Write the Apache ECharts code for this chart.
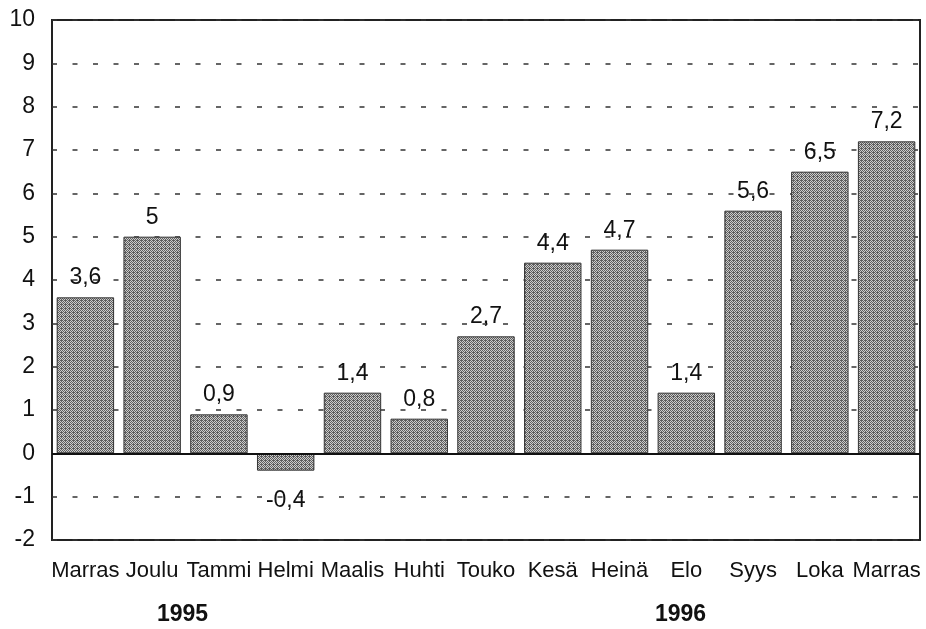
<!DOCTYPE html>
<html>
<head>
<meta charset="utf-8">
<script src="https://cdn.jsdelivr.net/npm/echarts@6/dist/echarts.min.js"></script>
<style>
  html, body { margin: 0; padding: 0; background: #fff; }
  #chart { width: 926px; height: 629px; }
</style>
</head>
<body>
<div id="chart"></div>
<script>
var months = ['Marras', 'Joulu', 'Tammi', 'Helmi', 'Maalis', 'Huhti', 'Touko', 'Kesä', 'Heinä', 'Elo', 'Syys', 'Loka', 'Marras'];
var values = [3.6, 5, 0.9, -0.4, 1.4, 0.8, 2.7, 4.4, 4.7, 1.4, 5.6, 6.5, 7.2];
var years = ['1995', '1996'];

// small dither tile for the bar fill
var tile = document.createElement('canvas');
tile.width = 4; tile.height = 4;
var tc = tile.getContext('2d');
tc.fillStyle = '#cccccc';
tc.fillRect(0, 0, 4, 4);
tc.fillStyle = '#5e5e5e';
var dots = [[0, 0], [2, 0], [1, 1], [3, 1], [0, 2], [2, 2], [1, 3], [3, 3], [1, 0]];
dots.forEach(function (d) { tc.fillRect(d[0], d[1], 1, 1); });

var font = '"Liberation Sans", Arial, sans-serif';

var myChart = echarts.init(document.getElementById('chart'));
var option = {
  animation: false,
  backgroundColor: '#fff',
  grid: {
    left: 52, right: 6, top: 20, bottom: 89,
    show: true, borderColor: '#222', borderWidth: 2,
    containLabel: false
  },
  xAxis: {
    type: 'category',
    data: months,
    axisLine: { onZero: false, show: false },
    axisTick: { show: false },
    axisLabel: {
      margin: 20, color: '#111', fontSize: 22, fontFamily: font,
      interval: 0
    }
  },
  yAxis: {
    type: 'value',
    min: -2, max: 10, interval: 1,
    axisLine: { show: false },
    axisTick: { show: false },
    axisLabel: { margin: 17, color: '#111', fontSize: 23, fontFamily: font },
    splitLine: {
      show: true,
      lineStyle: { color: '#333', width: 1.5, type: [5, 15.5] }
    }
  },
  series: [{
    type: 'bar',
    data: values.map(function (v) {
      // negative value gets its label under the bar
      return v < 0 ? { value: v, label: { position: 'bottom', distance: 18 } } : v;
    }),
    barCategoryGap: '14%',
    itemStyle: {
      color: { image: tile, repeat: 'repeat' },
      borderColor: '#333',
      borderWidth: 1
    },
    label: {
      show: true,
      position: 'top',
      distance: 8,
      color: '#111',
      fontSize: 23,
      fontFamily: font,
      formatter: function (p) { return String(p.value).replace('.', ','); }
    },
    markLine: {
      silent: true,
      symbol: 'none',
      label: { show: false },
      lineStyle: { color: '#111', width: 2, type: 'solid' },
      data: [{ yAxis: 0 }]
    }
  }],
  graphic: [
    { type: 'text', left: 157, top: 603, style: { text: years[0], font: 'bold 23px ' + font, fill: '#111' } },
    { type: 'text', left: 655, top: 603, style: { text: years[1], font: 'bold 23px ' + font, fill: '#111' } }
  ]
};
myChart.setOption(option);
</script>
</body>
</html>
